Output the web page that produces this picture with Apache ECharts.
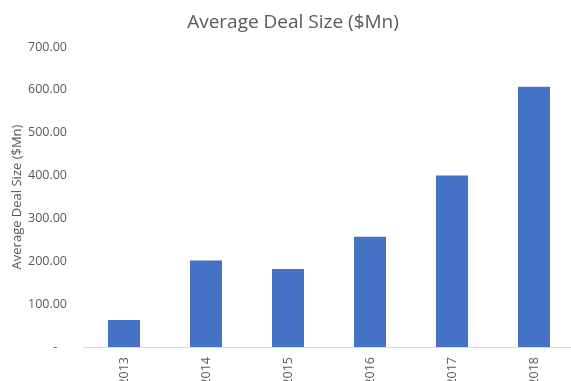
<!DOCTYPE html>
<html><head><meta charset="utf-8">
<script src="https://cdn.jsdelivr.net/npm/echarts@6/dist/echarts.min.js"></script>
<style>html,body{margin:0;padding:0;background:#fff}#c{width:571px;height:381px}</style>
</head><body><div id="c"></div>
<script>
var categories = ['2013','2014','2015','2016','2017','2018'];
var dealSize = [63, 202, 182, 257, 400, 607];
var yTicks = [0, 100, 200, 300, 400, 500, 600, 700];

var chart = echarts.init(document.getElementById('c'), null, {renderer:'canvas'});
var font = '"Open Sans", "Noto Sans", sans-serif';
chart.setOption({
  animation: false,
  title: {
    text: 'Average Deal Size ($Mn)',
    left: 288, top: 8, textAlign: 'center',
    textStyle: {fontFamily: font, fontSize: 19, fontWeight: 'normal', color: '#595959'}
  },
  grid: {left: 83, top: 47, width: 492, height: 300, containLabel: false, outerBoundsMode: 'none'},
  xAxis: {
    type: 'category', data: categories,
    axisLine: {lineStyle: {color: '#d9d9d9', width: 1}},
    axisTick: {show: false},
    axisLabel: {rotate: 90, margin: 10, color: '#595959', fontSize: 12.5, fontFamily: font}
  },
  yAxis: {
    type: 'value', min: yTicks[0], max: yTicks[yTicks.length-1], interval: 100,
    name: 'Average Deal Size ($Mn)', nameLocation: 'middle', nameGap: 59, nameMoveOverlap: false,
    nameTextStyle: {color: '#595959', fontSize: 13, fontFamily: font},
    axisLine: {show: false}, axisTick: {show: false}, splitLine: {show: false},
    axisLabel: {
      margin: 16, color: '#595959', fontSize: 12.5, fontFamily: font,
      formatter: function(v){ return v === 0 ? '-   ' : v.toFixed(2); }
    }
  },
  series: [{
    type: 'bar', data: dealSize, barWidth: 32,
    itemStyle: {color: '#4472C4'}
  }]
});
</script></body></html>
